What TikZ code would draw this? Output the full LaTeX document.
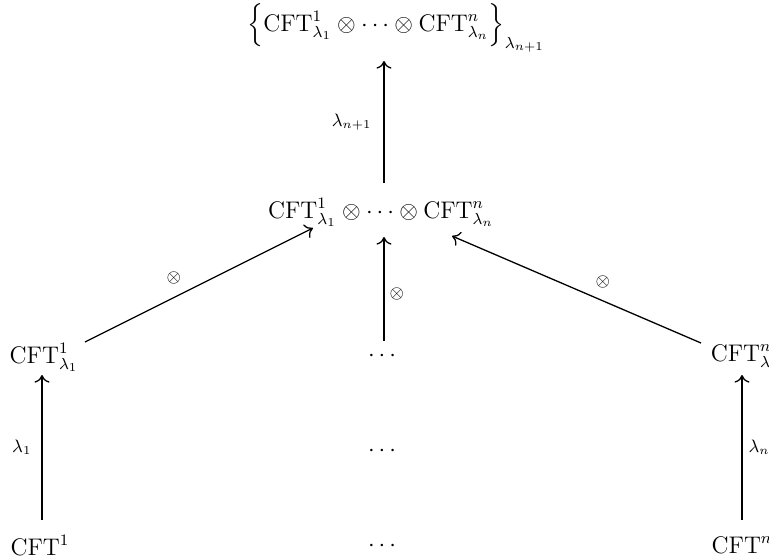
\documentclass[tikz,border=0pt]{standalone}
\usepackage{amsmath}
\usetikzlibrary{arrows.meta,calc}
\tikzset{
  obj/.style={inner sep=1pt, font=\fontsize{11.5}{13}\selectfont},
  lab/.style={inner sep=1pt, font=\fontsize{9}{11}\selectfont},
  map/.style={line width=0.65pt, -{Computer Modern Rightarrow[width=7.5pt,length=3.8pt,line width=0.65pt]}}
}
\begin{document}
\begin{tikzpicture}[x=0.5pt,y=-0.5pt]
\useasboundingbox (0,0) rectangle (769,559);
% objects
\node[obj] (top) at (396,28) {$\Bigl\{\mathrm{CFT}^1_{\lambda_1}\otimes\cdots\otimes\mathrm{CFT}^n_{\lambda_n}\Bigr\}_{\lambda_{n+1}}$};
\node[obj] (mid) at (381,212) {$\mathrm{CFT}^1_{\lambda_1}\otimes\cdots\otimes\mathrm{CFT}^n_{\lambda_n}$};
\node[obj] (l3) at (44,357) {$\mathrm{CFT}^1_{\lambda_1}$};
\node[obj] (m3) at (384,356) {$\cdots$};
\node[obj] (r3) at (746,357) {$\mathrm{CFT}^n_{\lambda_n}$};
\node[obj] (m4) at (384,451) {$\cdots$};
\node[obj] (l5) at (40,545) {$\mathrm{CFT}^1$};
\node[obj] (m5) at (384,546) {$\cdots$};
\node[obj] (r5) at (742,545) {$\mathrm{CFT}^n$};
% maps
\draw[map] ($(mid.center)+(3,-29)$) -- ($(top.center)+(-12,33)$)
  node[lab,midway,left=5pt] {$\lambda_{n+1}$};
\draw[map] ($(l3.center)+(41,-15)$) -- ($(mid.center)+(-68,16)$)
  node[lab,pos=0.45,above left=2pt] {$\otimes$};
\draw[map] ($(m3.center)+(0,-15)$) -- ($(mid.center)+(3,25)$)
  node[lab,pos=0.45,right=1.5pt] {$\otimes$};
\draw[map] ($(r3.center)+(-45,-14)$) -- ($(mid.center)+(71,24)$)
  node[lab,pos=0.45,above right=2pt] {$\otimes$};
\draw[map] ($(l5.center)+(2,-25)$) -- ($(l3.center)+(-2,18)$)
  node[lab,midway,left=4pt] {$\lambda_1$};
\draw[map] ($(r5.center)+(0,-25)$) -- ($(r3.center)+(-4,18)$)
  node[lab,midway,right=2pt] {$\lambda_n$};
\end{tikzpicture}
\end{document}
